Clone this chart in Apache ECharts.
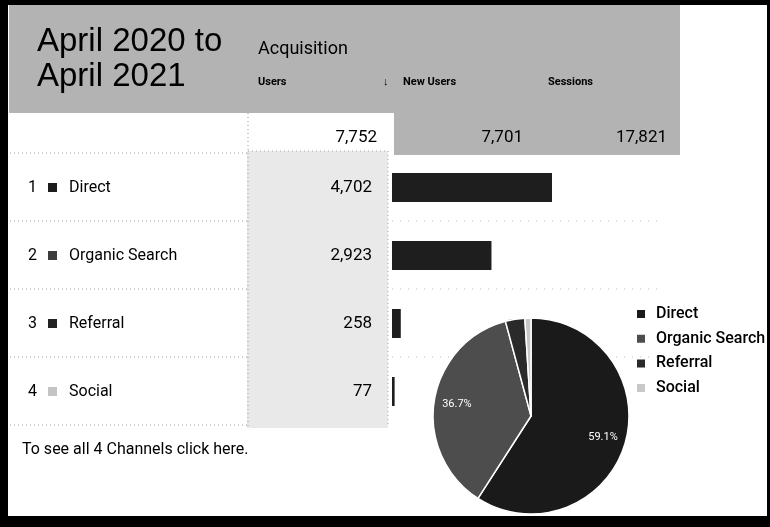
<!DOCTYPE html>
<html><head><meta charset="utf-8">
<script src="https://cdn.jsdelivr.net/npm/echarts@6/dist/echarts.min.js"></script>
<style>html,body{margin:0;padding:0;background:#fff}#c{width:770px;height:527px}</style>
</head><body><div id="c"></div>
<script>
// ---- data ----
const channels = ['Direct', 'Organic Search', 'Referral', 'Social'];
const users = [4702, 2923, 258, 77];
const headerLabels = ['Users', 'New Users', 'Sessions'];
const totalLabels = ['7,752', '7,701', '17,821'];
const pieShares = [59.1, 36.7, 3.2, 1.0];
const titleLines = ['April 2020 to', 'April 2021'];

// ---- styles ----
const chanColors = ['#1c1c1c', '#3c3c3c', '#222222', '#c4c4c4'];
const pieColors = ['#1a1a1a', '#4d4d4d', '#2a2a2a', '#c8c8c8'];
const barColor = '#1e1e1e';
const FONT = 'Roboto, "Liberation Sans", Arial, sans-serif';

const fmt = v => v.toLocaleString('en-US');

const rich = { n: { width: 20, fontSize: 16, fontFamily: FONT, color: '#000' },
               t: { fontSize: 16, fontFamily: FONT, color: '#000', padding: [0, 0, 0, 12] } };
chanColors.forEach((c, i) => { rich['s' + i] = { width: 9, height: 9, backgroundColor: c }; });

function dotted(x1, y1, x2, y2, color, dash) {
  return { type: 'line', z: 1, shape: { x1, y1, x2, y2 },
           style: { stroke: color || '#999', lineWidth: 1, lineDash: dash || [1, 3] } };
}
function txt(x, y, text, o) {
  return Object.assign({ type: 'text', z: 5, x, y,
    style: Object.assign({ text, fill: '#000', font: '17px ' + FONT, textVerticalAlign: 'middle' }, o || {}) });
}

const graphics = [
  // shaded header blocks
  { type: 'rect', z: 0, shape: { x: 9, y: 5, width: 671, height: 108 }, style: { fill: '#b3b3b3' } },
  { type: 'rect', z: 0, shape: { x: 394, y: 113, width: 286, height: 42 }, style: { fill: '#b3b3b3' } },
  { type: 'rect', z: 0, shape: { x: 247, y: 151, width: 141, height: 277 }, style: { fill: '#e9e9e9' } },
  // table lines
  dotted(248, 113, 248, 427),
  dotted(388, 151, 388, 427, '#aaa'),
  dotted(248, 151, 388, 151, '#aaa'),
  ...[153, 221, 289, 357, 425].map(y => dotted(10, y, 248, y, '#999')),
  ...[221, 289, 357].map(y => dotted(392, y, 660, y, '#bbb', [1, 7])),
  // texts
  txt(37, 42, titleLines[0], { font: '33px "Liberation Sans", Arial, sans-serif' }),
  txt(37, 77, titleLines[1], { font: '33px "Liberation Sans", Arial, sans-serif' }),
  txt(258, 49, 'Acquisition', { font: '18px ' + FONT }),
  txt(258, 82, headerLabels[0], { font: 'bold 11px ' + FONT }),
  txt(383, 82, '↓', { font: 'bold 11px ' + FONT }),
  txt(403, 82, headerLabels[1], { font: 'bold 11px ' + FONT }),
  txt(548, 82, headerLabels[2], { font: 'bold 11px ' + FONT }),
  txt(377, 138, totalLabels[0], { textAlign: 'right' }),
  txt(523, 138, totalLabels[1], { textAlign: 'right' }),
  txt(667, 138, totalLabels[2], { textAlign: 'right' }),
  txt(22, 450, 'To see all 4 Channels click here.', { font: '16px ' + FONT }),
  // black scan borders
  { type: 'rect', z: 100, shape: { x: 0, y: 0, width: 770, height: 5 }, style: { fill: '#000' } },
  { type: 'rect', z: 100, shape: { x: 0, y: 0, width: 8, height: 527 }, style: { fill: '#000' } },
  { type: 'rect', z: 100, shape: { x: 767, y: 0, width: 3, height: 527 }, style: { fill: '#000' } },
  { type: 'rect', z: 100, shape: { x: 0, y: 516, width: 770, height: 11 }, style: { fill: '#000' } }
];

const pieData = channels.map((n, i) => ({ name: n, value: pieShares[i], itemStyle: { color: pieColors[i] } }));

const chart = echarts.init(document.getElementById('c'), null, { renderer: 'canvas' });
chart.setOption({
  animation: false,
  backgroundColor: '#fff',
  graphic: { elements: graphics },
  grid: { left: 392, top: 153.5, width: 160, height: 272 },
  xAxis: { type: 'value', min: 0, max: 'dataMax', show: false },
  yAxis: [
    { type: 'category', inverse: true, data: users.map(fmt),
      axisLine: { show: false }, axisTick: { show: false },
      axisLabel: { margin: 20, fontSize: 17, fontFamily: FONT, color: '#000' } },
    { type: 'category', inverse: true, data: channels, position: 'left',
      axisLine: { show: false }, axisTick: { show: false },
      axisLabel: { margin: 364, align: 'left',
        formatter: (v, i) => `{n|${i + 1}}{s${i}|}{t|${v}}`, rich } }
  ],
  legend: {
    orient: 'vertical', left: 635, top: 306, padding: 0,
    itemWidth: 10, itemHeight: 10, itemGap: 8.7, icon: 'rect',
    data: channels.map((n, i) => ({ name: n, itemStyle: { color: pieColors[i] } })),
    textStyle: { fontSize: 16, lineHeight: 16, fontFamily: FONT, fontWeight: 500, color: '#000', padding: [0, 0, 0, 5] }
  },
  series: [
    { type: 'bar', yAxisIndex: 0, data: users, barWidth: 29, itemStyle: { color: barColor }, silent: true },
    { type: 'pie', center: [531, 416], radius: [0, 98], startAngle: 90, clockwise: true,
      data: pieData, label: { show: false }, labelLine: { show: false },
      itemStyle: { borderColor: '#fff', borderWidth: 1.5 }, silent: true },
    { type: 'pie', center: [531, 416], radius: [46, 98], startAngle: 90, clockwise: true,
      data: pieData.map(d => ({ name: d.name, value: d.value })), silent: true, legendHoverLink: false,
      itemStyle: { color: 'rgba(0,0,0,0)', borderWidth: 0 }, labelLine: { show: false },
      label: { show: true, position: 'inside', color: '#fff', fontSize: 11, fontFamily: FONT,
        formatter: p => p.percent > 10 ? p.percent.toFixed(1) + '%' : '' } }
  ]
});
</script></body></html>
